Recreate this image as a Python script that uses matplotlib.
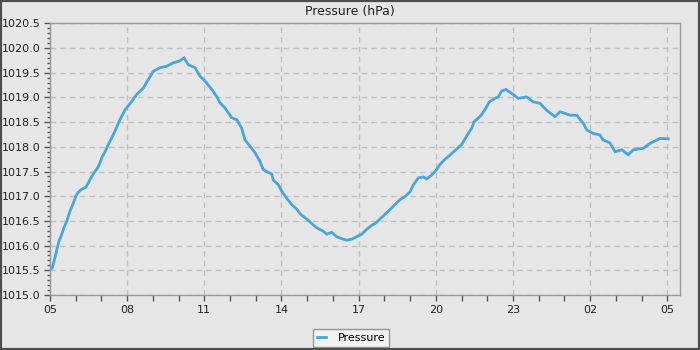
import matplotlib
matplotlib.use("Agg")
import matplotlib.pyplot as plt
from matplotlib.patches import Rectangle
from matplotlib.ticker import MultipleLocator, FixedLocator

# hours since 05:00
hours = [0.00, 0.09, 0.19, 0.28, 0.35, 0.45, 0.54, 0.65, 0.71, 0.80, 0.91, 1.00,
         1.10, 1.23, 1.39, 1.49, 1.62, 1.72, 1.85, 1.94, 2.03, 2.14, 2.33, 2.53,
         2.72, 2.92, 3.03, 3.18, 3.37, 3.63, 3.82, 4.02, 4.28, 4.54, 4.79, 5.05,
         5.21, 5.38, 5.64, 5.83, 6.03, 6.29, 6.48, 6.61, 6.80, 7.06, 7.26, 7.45,
         7.58, 7.78, 7.97, 8.16, 8.29, 8.49, 8.62, 8.68, 8.88, 9.01, 9.20, 9.40,
         9.59, 9.75, 9.98, 10.17, 10.37, 10.63, 10.76, 10.95, 11.15, 11.34, 11.54,
         11.73, 11.92, 12.12, 12.31, 12.51, 12.70, 12.83, 13.02, 13.22, 13.41,
         13.61, 13.80, 14.00, 14.13, 14.32, 14.51, 14.65, 14.84, 15.01, 15.14,
         15.36, 15.55, 16.01, 16.24, 16.40, 16.49, 16.65, 16.78, 16.98, 17.08,
         17.30, 17.43, 17.56, 17.73, 17.95, 18.21, 18.53, 18.79, 19.05, 19.31,
         19.63, 19.83, 20.22, 20.48, 20.74, 20.87, 21.12, 21.38, 21.50, 21.77,
         21.97, 22.23, 22.48, 22.68, 23.07, 23.33, 23.72, 24.04]

pressure = [1015.52, 1015.55, 1015.75, 1015.95, 1016.09, 1016.22, 1016.36, 1016.49,
            1016.59, 1016.73, 1016.86, 1017.00, 1017.08, 1017.14, 1017.18, 1017.27,
            1017.40, 1017.48, 1017.57, 1017.67, 1017.80, 1017.90, 1018.11, 1018.32,
            1018.55, 1018.75, 1018.82, 1018.92, 1019.06, 1019.19, 1019.36, 1019.53,
            1019.60, 1019.63, 1019.70, 1019.74, 1019.80, 1019.66, 1019.60, 1019.43,
            1019.33, 1019.16, 1019.02, 1018.89, 1018.79, 1018.59, 1018.55, 1018.38,
            1018.14, 1018.01, 1017.88, 1017.71, 1017.54, 1017.48, 1017.45, 1017.33,
            1017.23, 1017.10, 1016.96, 1016.83, 1016.74, 1016.63, 1016.54, 1016.45,
            1016.36, 1016.29, 1016.23, 1016.27, 1016.18, 1016.14, 1016.11, 1016.13,
            1016.18, 1016.23, 1016.33, 1016.41, 1016.47, 1016.54, 1016.63, 1016.73,
            1016.83, 1016.93, 1016.99, 1017.09, 1017.23, 1017.37, 1017.39, 1017.35,
            1017.43, 1017.52, 1017.63, 1017.75, 1017.83, 1018.05, 1018.25, 1018.38,
            1018.51, 1018.58, 1018.65, 1018.81, 1018.91, 1018.98, 1019.01, 1019.13,
            1019.16, 1019.08, 1018.98, 1019.01, 1018.91, 1018.88, 1018.74, 1018.61,
            1018.71, 1018.64, 1018.64, 1018.47, 1018.34, 1018.27, 1018.24, 1018.14,
            1018.08, 1017.90, 1017.94, 1017.84, 1017.94, 1017.97, 1018.07, 1018.17,
            1018.16]

tick_labels = ["05", "08", "11", "14", "17", "20", "23", "02", "05"]
title = "Pressure (hPa)"
series_name = "Pressure"

bg = "#e6e6e6"
fig = plt.figure(figsize=(7, 3.5), dpi=100, facecolor=bg)
ax = fig.add_axes([50/700, 55/350, 630/700, 271.7/350])
ax.set_facecolor(bg)

ax.plot(hours, pressure, color="#48a6d9", lw=2.0, label=series_name, zorder=3,
        solid_joinstyle="miter")

ax.set_xlim(0, 630/25.72)
ax.set_ylim(1015.0, 1020.5)

major_x = [3*i for i in range(len(tick_labels))]
ax.set_xticks(major_x)
ax.set_xticklabels(tick_labels)
ax.xaxis.set_minor_locator(FixedLocator([h for h in range(0, 25) if h % 3 != 0]))
ax.yaxis.set_major_locator(MultipleLocator(0.5))
ax.yaxis.set_minor_locator(MultipleLocator(0.1))
ax.yaxis.set_major_formatter(matplotlib.ticker.FormatStrFormatter("%.1f"))

ax.tick_params(axis="both", which="major", length=4, width=1, color="#555555",
               labelsize=8, labelcolor="#222222", pad=3)
ax.tick_params(axis="x", which="minor", length=4, width=1, color="#555555")
ax.tick_params(axis="y", which="minor", length=2, width=1, color="#555555")

ax.grid(True, which="major", color="#c0c0c0", linestyle=(0, (4, 3)), linewidth=1)
for s in ax.spines.values():
    s.set_color("#999999")
    s.set_linewidth(1)

fig.text(0.5, 1 - 12/350, title, ha="center", va="center", fontsize=9, color="#222222")

leg = fig.legend(loc="center", bbox_to_anchor=(351/700, 1 - 338/350), fontsize=8,
                 frameon=True, fancybox=False, handlelength=0.8, borderpad=0.35,
                 handletextpad=1.1, borderaxespad=0)
leg.get_frame().set_facecolor("#f4f4f4")
leg.get_frame().set_edgecolor("#808080")
leg.get_frame().set_linewidth(1)

fig.patches.append(Rectangle((0, 0), 1, 1, transform=fig.transFigure, fill=False,
                             edgecolor="#4d4d4d", linewidth=3, zorder=10))

fig.savefig("out.png", dpi=100, facecolor=bg)
